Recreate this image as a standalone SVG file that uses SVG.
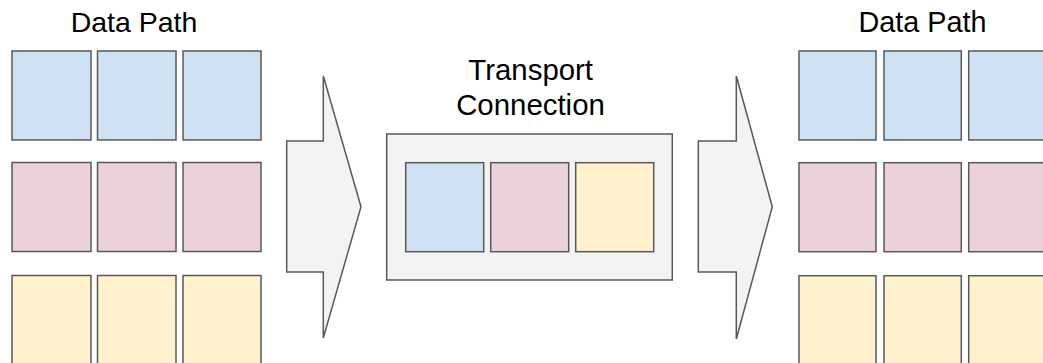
<svg xmlns="http://www.w3.org/2000/svg" width="1043" height="363" viewBox="0 0 1043 363">
<style>
.t{font-family:"Liberation Sans",Arial,sans-serif;fill:#000;text-anchor:middle}
.sq{stroke:#595959;stroke-width:1.5}
.b{fill:#cfe2f3}.p{fill:#ead1dc}.y{fill:#fff2cc}
.g{fill:#f3f3f3;stroke:#595959;stroke-width:1.5}
</style>
<rect width="1043" height="363" fill="#fff"/>
<g id="left-datapath">
<text class="t" x="134" y="32.3" font-size="28.5">Data Path</text>
<rect class="sq b" x="12" y="51" width="79" height="89"/>
<rect class="sq b" x="97.5" y="51" width="78.5" height="89"/>
<rect class="sq b" x="183" y="51" width="78" height="89"/>
<rect class="sq p" x="12" y="162.5" width="79" height="89"/>
<rect class="sq p" x="97.5" y="162.5" width="78.5" height="89"/>
<rect class="sq p" x="183" y="162.5" width="78" height="89"/>
<rect class="sq y" x="12" y="275.5" width="79" height="100"/>
<rect class="sq y" x="97.5" y="275.5" width="78.5" height="100"/>
<rect class="sq y" x="183" y="275.5" width="78" height="100"/>
</g>
<g id="connectors">
<polygon id="arrow1" class="g" points="286.7,141 323.3,141 323.3,76 361,206.7 323.3,338 323.3,272 286.7,272"/>
<polygon id="arrow2" class="g" points="698.3,141 736.3,141 736.3,76 772.3,206.7 736.3,339 736.3,272 698.3,272"/>
</g>
<g id="transport">
<text class="t" x="530.7" y="80" font-size="29.4">Transport</text>
<text class="t" x="530.5" y="115" font-size="29.4">Connection</text>
<rect class="g" x="386.7" y="134" width="285.6" height="146"/>
<rect class="sq b" x="405.7" y="162.7" width="78" height="89"/>
<rect class="sq p" x="490.7" y="162.7" width="78" height="89"/>
<rect class="sq y" x="575.7" y="162.7" width="78" height="89"/>
</g>
<g id="right-datapath">
<text class="t" x="922.5" y="32.3" font-size="28.8">Data Path</text>
<rect class="sq b" x="799" y="51" width="77" height="89"/>
<rect class="sq b" x="884" y="51" width="77.3" height="89"/>
<rect class="sq b" x="968.7" y="51" width="78" height="89"/>
<rect class="sq p" x="799" y="162.7" width="77" height="89"/>
<rect class="sq p" x="884" y="162.7" width="77.3" height="89"/>
<rect class="sq p" x="968.7" y="162.7" width="78" height="89"/>
<rect class="sq y" x="799" y="275.7" width="77" height="100"/>
<rect class="sq y" x="884" y="275.7" width="77.3" height="100"/>
<rect class="sq y" x="968.7" y="275.7" width="78" height="100"/>
</g>
</svg>
